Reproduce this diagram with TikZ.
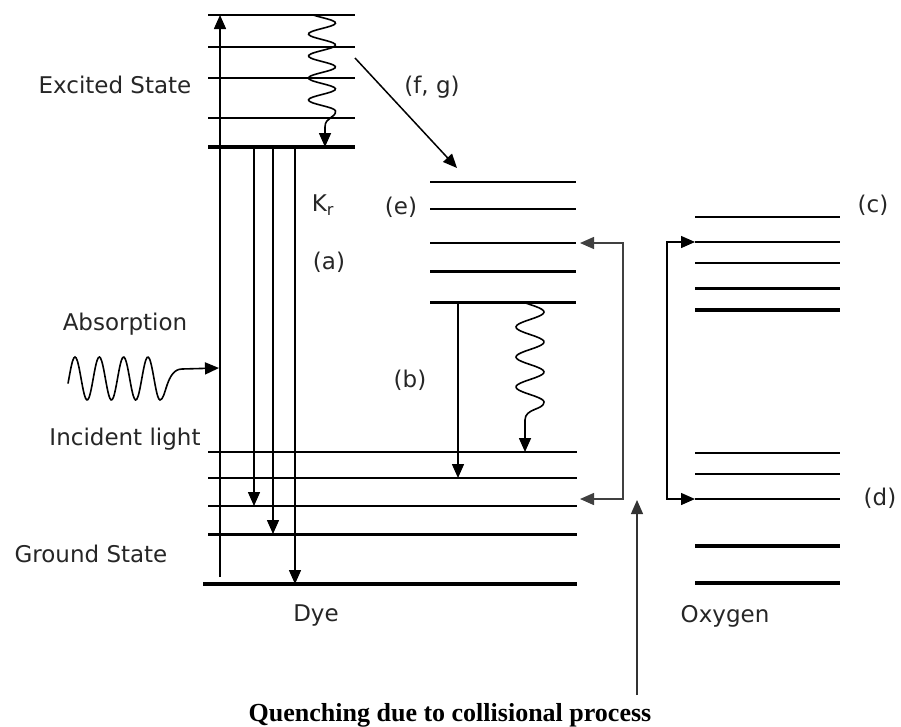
\documentclass[tikz,border=0pt]{standalone}
\usepackage{fontspec}
\setmainfont{DejaVu Sans}
\newfontfamily\titlefont{Liberation Serif}
\usetikzlibrary{arrows.meta}
\newcommand{\lev}[5]{\coordinate (#1l) at (#2,#4); \coordinate (#1r) at (#3,#4); \draw[#5] (#1l) -- (#1r);}
\begin{document}
\begin{tikzpicture}[x=1pt,y=-1pt,
  lvla/.style={line width=1.6pt},
  lvlb/.style={line width=2.3pt},
  lvlc/.style={line width=3.0pt},
  lvld/.style={line width=3.8pt},
  tip/.style={-{Triangle[length=14pt,width=12pt]}},
  tr/.style={line width=1.5pt,tip},
  wave/.style={line width=1.6pt},
  brk/.style={line width=1.4pt,black!75,{Triangle[length=14pt,width=12pt]}-{Triangle[length=14pt,width=12pt]}},
  lbl/.style={font=\fontsize{23}{26}\selectfont, text=black!85, inner sep=0pt},
  ]
\useasboundingbox (0,0) rectangle (901,726);

% Dye excited levels
\lev{dA}{208}{355}{15}{lvla}
\lev{dB}{208}{355}{47}{lvla}
\lev{dC}{208}{355}{78}{lvla}
\lev{dD}{208}{355}{118}{lvla}
\lev{dE}{208}{355}{147}{lvld}
% Dye ground levels
\lev{gA}{208}{577}{452}{lvla}
\lev{gB}{208}{577}{478}{lvlb}
\lev{gC}{208}{577}{506}{lvlb}
\lev{gD}{208}{577}{534}{lvlc}
\lev{gE}{203}{577}{584}{lvld}
% Middle levels (e)
\lev{mA}{430}{576}{182}{lvla}
\lev{mB}{430}{576}{209}{lvlb}
\lev{mC}{430}{576}{243}{lvlb}
\lev{mD}{430}{576}{271}{lvlc}
\lev{mE}{430}{576}{302}{lvlc}
% Oxygen levels
\lev{oA}{695}{840}{217}{lvla}
\lev{oB}{695}{840}{242}{lvlb}
\lev{oC}{695}{840}{263}{lvlb}
\lev{oD}{695}{840}{288}{lvlc}
\lev{oE}{695}{840}{310}{lvld}
\lev{oF}{695}{840}{453}{lvla}
\lev{oG}{695}{840}{474}{lvlb}
\lev{oH}{695}{840}{499}{lvlb}
\lev{oI}{695}{840}{546}{lvld}
\lev{oJ}{695}{840}{583}{lvld}

% Absorption vertical
\coordinate (absbot) at (220,577);
\draw[tr] (absbot) -- (absbot |- dAl);
% Radiative transitions
\coordinate (ta) at (254,147);
\coordinate (tb) at (273,147);
\coordinate (tc) at (295,147);
\draw[tr] (ta) -- (ta |- gCl);
\draw[tr] (tb) -- (tb |- gDl);
\draw[tr] (tc) -- (tc |- gEl);
% (b) transition
\coordinate (tbb) at (458,302);
\draw[tr] (tbb) -- (tbb |- gBl);

% Wavy relaxation in excited state
\coordinate (w1e) at (325,147);
\draw[wave,tip] plot[smooth,domain=15:111,samples=70] ({322+13.5*sin((\x-17.5)*16.3636)},\x)
  .. controls (336,118) and (325,117) .. (325,127) -- (w1e);
% Wavy relaxation in middle
\coordinate (w2e) at (525,452);
\draw[wave,tip] plot[smooth,domain=302:402,samples=70] ({530+14*sin((\x-304.5)*12)},\x)
  .. controls (544,410) and (525,408) .. (525,420) -- (w2e);

% Incident light wave
\coordinate (absin) at (219,368);
\draw[wave,tip] plot[smooth,domain=68:160,samples=80] (\x,{378.5-21.5*cos((\x-75)*14.815)})
  .. controls (166,400) and (166,369) .. (182,369) -- (absin);

% (f,g) diagonal
\coordinate (fgs) at (355,58);
\coordinate (fge) at (457,168);
\draw[tr] (fgs) -- (fge);

% Brackets
\coordinate (bk1) at (580,243);
\coordinate (bk2) at (623,243);
\coordinate (bk3) at (623,499);
\coordinate (bk4) at (580,499);
\draw[brk] (bk1) -- (bk2) -- (bk3) -- (bk4);
\coordinate (ok1) at (667,242);
\coordinate (ok2) at (667,499);
\draw[brk,black] (oBl) -- (ok1) -- (ok2) -- (oHl);
% Collision arrow
\coordinate (cb) at (637,695);
\coordinate (ct) at (637,500);
\draw[tr,line width=1.3pt,black!80] (cb) -- (ct);

% Labels
\node[lbl,anchor=base] (excited) at (115,93) {Excited State};
\node[lbl,anchor=base] (absorb) at (125,330) {Absorption};
\node[lbl,anchor=base] (incid) at (125,445) {Incident light};
\node[lbl,anchor=base] (ground) at (91,562) {Ground State};
\node[lbl,anchor=base] (dye) at (316,621) {Dye};
\node[lbl,anchor=base] (oxy) at (725,622) {Oxygen};
\node[lbl] (fg) at (432,87) {(f, g)};
\node[lbl] (kr) at (323,205) {K\textsubscript{r}};
\node[lbl] (le) at (401,207) {(e)};
\node[lbl] (la) at (329,262) {(a)};
\node[lbl] (lb) at (410,380) {(b)};
\node[lbl] (lc) at (873,205) {(c)};
\node[lbl] (ld) at (880,498) {(d)};
\node[anchor=base,inner sep=0pt,font=\titlefont\bfseries\fontsize{26}{30}\selectfont] (title) at (450,721) {Quenching due to collisional process};
\end{tikzpicture}
\end{document}
